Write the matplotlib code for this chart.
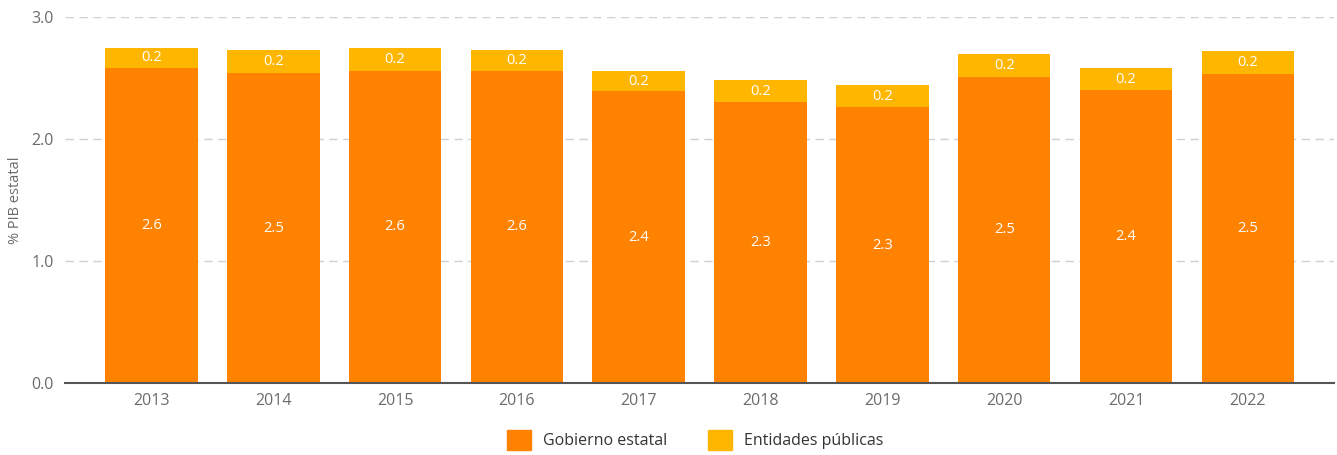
import numpy as np
import matplotlib.pyplot as plt
from matplotlib.patches import Patch

plt.rcParams['font.family'] = ['Open Sans', 'DejaVu Sans']

years = ['2013', '2014', '2015', '2016', '2017', '2018', '2019', '2020', '2021', '2022']
gobierno = [2.58, 2.54, 2.56, 2.56, 2.39, 2.30, 2.26, 2.51, 2.40, 2.53]
entidades = [0.17, 0.19, 0.19, 0.17, 0.17, 0.18, 0.18, 0.19, 0.18, 0.19]

c_gob = '#ff8200'
c_ent = '#ffb600'
gray = '#6b6b6b'

fig = plt.figure(figsize=(13.37, 4.55), dpi=100)
ax = fig.add_axes([0.0486, 0.158, 0.9494, 0.8046])

x = np.arange(len(years))
w = 0.76
b1 = ax.bar(x, gobierno, w, color=c_gob, zorder=2)
b2 = ax.bar(x, entidades, w, bottom=gobierno, color=c_ent, zorder=2)

# value labels in the middle of each segment
for xi, g, e in zip(x, gobierno, entidades):
    ax.text(xi, g / 2, '{:.1f}'.format(g), ha='center', va='center',
            color='white', fontsize=10.5, zorder=3)
    ax.text(xi, g + e / 2, '{:.1f}'.format(e), ha='center', va='center',
            color='white', fontsize=10.5, zorder=3)

ax.set_xlim(-0.71, len(years) - 0.29)
ax.set_ylim(0, 3.0)
ax.set_yticks([0, 1, 2, 3])
ax.set_yticklabels(['0.0', '1.0', '2.0', '3.0'])
ax.set_xticks(x)
ax.set_xticklabels(years)
ax.tick_params(axis='both', length=0, colors=gray, labelsize=11.5)
ax.tick_params(axis='x', pad=7)
ax.tick_params(axis='y', pad=8)

ax.yaxis.grid(True, color='#d0d0d0', linestyle=(0, (6, 4)), linewidth=1, zorder=0)
ax.set_axisbelow(True)
for s in ['top', 'right', 'left']:
    ax.spines[s].set_visible(False)
ax.spines['bottom'].set_color('#555555')
ax.spines['bottom'].set_linewidth(1.5)
ax.spines['bottom'].set_zorder(4)

ax.set_ylabel('% PIB estatal', color=gray, fontsize=10.5, labelpad=6)

handles = [Patch(color=c_gob, label='Gobierno estatal'),
           Patch(color=c_ent, label='Entidades públicas')]
fig.legend(handles=handles, loc='center', bbox_to_anchor=(0.52, 0.033), ncol=2,
           frameon=False, fontsize=11.5, handlelength=1.5, handleheight=1.5,
           columnspacing=2.5, handletextpad=0.8, labelcolor='#333333')

fig.savefig('out.png', dpi=100)
